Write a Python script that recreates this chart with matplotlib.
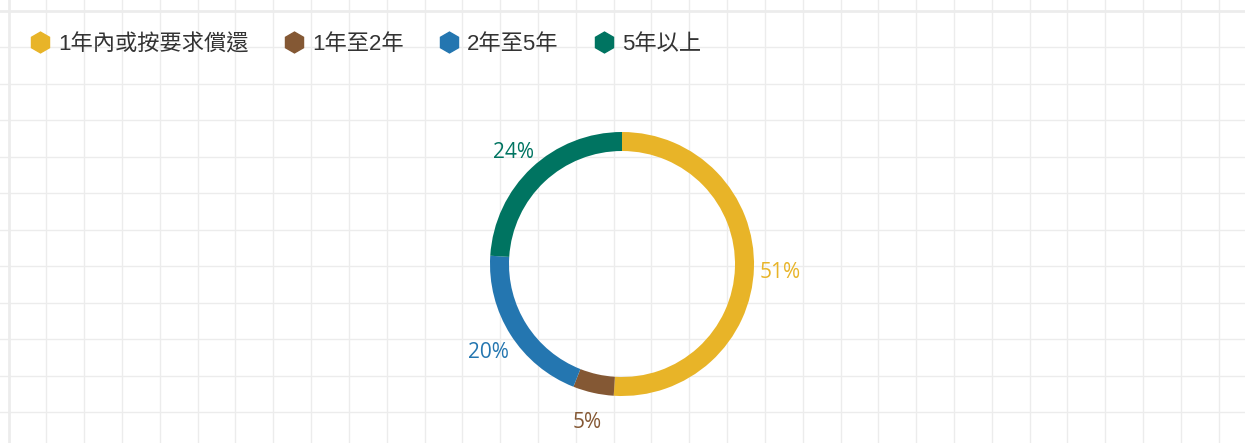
import matplotlib
matplotlib.use("Agg")
import matplotlib.pyplot as plt
from matplotlib.lines import Line2D
import numpy as np

categories = ["1年內或按要求償還", "1年至2年", "2年至5年", "5年以上"]
values = [51, 5, 20, 24]
colors = ["#E8B428", "#845834", "#2476B0", "#007461"]

W, H, DPI = 1245, 443, 100
fig = plt.figure(figsize=(W / DPI, H / DPI), dpi=DPI)
fig.patch.set_facecolor("white")

# background grid (pixel coordinates)
bg = fig.add_axes([0, 0, 1, 1])
bg.set_xlim(0, W)
bg.set_ylim(H, 0)
bg.axis("off")
grid_c = "#ECECEC"
x0, dx = 8.5, 37.82
y0, dy = 11, 36.45
for i in range(40):
    x = x0 + i * dx
    if x > W:
        break
    bg.axvline(x, color=grid_c, lw=1.0 if i else 2.0, zorder=0)
for j in range(20):
    y = y0 + j * dy
    if y > H:
        break
    bg.axhline(y, color=grid_c, lw=1.0 if j else 2.0, zorder=0)

# donut
cx, cy, half = 622, 264, 170
ax = fig.add_axes([(cx - half) / W, (H - cy - half) / H, 2 * half / W, 2 * half / H])
wedges, texts, autotexts = ax.pie(
    values, colors=colors, startangle=90, counterclock=False, radius=132,
    wedgeprops=dict(width=19, linewidth=0), autopct=lambda p: f"{p:.0f}%",
    pctdistance=1.2, textprops=dict(fontsize=15, family=["Open Sans", "DejaVu Sans"]))
ax.set_xlim(-half, half)
ax.set_ylim(-half, half)
ax.set_aspect("equal")
ax.axis("off")
for t, c in zip(autotexts, colors):
    t.set_color(c)
    x, y = t.get_position()
    t.set_position((x, y - 4))

# legend
handles = [Line2D([], [], marker="h", linestyle="none", markersize=15,
                  markerfacecolor=c, markeredgecolor=c) for c in colors]
leg = fig.legend(handles, categories, loc="upper left", bbox_to_anchor=(9 / W, 1 - 14 / H),
                 ncol=4, frameon=False, handlelength=1.0, handletextpad=0.3,
                 columnspacing=1.56,
                 prop=dict(family=["Liberation Sans", "Noto Sans CJK TC"], size=16))
for t in leg.get_texts():
    t.set_color("#333333")

fig.savefig("out.png", dpi=DPI, facecolor="white")
